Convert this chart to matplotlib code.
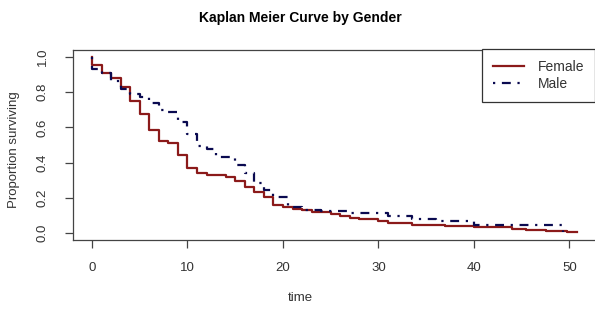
import matplotlib
matplotlib.use("Agg")
import matplotlib.pyplot as plt

# -------------------------------
# Data
# -------------------------------
female_time = [0, 0, 1, 2, 3, 4, 5, 6, 7, 8, 9, 10, 11, 12, 14, 15, 16, 17, 18,
               19, 20, 21, 22, 23, 25, 26, 27, 28, 30, 31, 33.5, 37, 40, 44,
               45.5, 47.5, 49.7, 50.8]
female_surv = [1.0, 0.955, 0.91, 0.882, 0.83, 0.75, 0.675, 0.585, 0.525, 0.51,
               0.443, 0.368, 0.34, 0.33, 0.316, 0.295, 0.263, 0.235, 0.206,
               0.16, 0.145, 0.135, 0.128, 0.121, 0.106, 0.097, 0.087, 0.078,
               0.066, 0.059, 0.045, 0.037, 0.032, 0.022, 0.016, 0.01, 0.004, 0.004]

male_time = [0, 0, 1, 2, 3, 4, 5, 6, 7, 8, 9, 10, 11, 12, 13, 15, 16, 17, 18,
             19, 20.5, 22, 24, 27, 31, 33.5, 36, 40, 49.3, 49.3]
male_surv = [1.0, 0.93, 0.91, 0.865, 0.82, 0.79, 0.775, 0.74, 0.70, 0.69,
             0.63, 0.56, 0.495, 0.478, 0.434, 0.386, 0.34, 0.284, 0.244,
             0.205, 0.15, 0.128, 0.125, 0.113, 0.095, 0.082, 0.07, 0.046,
             0.046, 0.004]

groups = ["Female", "Male"]
x_ticks = [0, 10, 20, 30, 40, 50]
y_ticks = [0.0, 0.2, 0.4, 0.6, 0.8, 1.0]

# -------------------------------
# Figure
# -------------------------------
plt.rcParams['font.family'] = ['Liberation Sans', 'DejaVu Sans']

fig = plt.figure(figsize=(5.95, 3.12), dpi=100)
ax = fig.add_axes([72.5 / 595, 72 / 312, 526 / 595, 190 / 312])

ax.step(female_time, female_surv, where="post", color="#8b1a1a", lw=1.6,
        label=groups[0])
ax.step(male_time, male_surv, where="post", color="#0a0a50", lw=1.6,
        linestyle=(0, (1, 3, 4, 3)), label=groups[1])

ax.set_xlim(-2.04, 53.04)
ax.set_ylim(-0.04, 1.04)
ax.set_xticks(x_ticks)
ax.set_xticklabels([str(t) for t in x_ticks])
ax.set_yticks(y_ticks)
ax.set_yticklabels(["%.1f" % v for v in y_ticks], rotation=90, va="center")

for sp in ax.spines.values():
    sp.set_color("#444444")
    sp.set_linewidth(0.9)
ax.tick_params(axis="both", direction="out", length=6, width=0.9,
               color="#444444", labelcolor="#333333", labelsize=9.5)
ax.tick_params(axis="x", pad=10)
ax.tick_params(axis="y", pad=11)

fig.text(300 / 595, 1 - 18 / 312, "Kaplan Meier Curve by Gender",
         ha="center", va="center", fontsize=10, fontweight="bold")
fig.text(300 / 595, 1 - 298 / 312, "time", ha="center", va="center",
         fontsize=9.5, color="#333333")
fig.text(14 / 595, 1 - 150 / 312, "Proportion surviving", ha="center",
         va="center", rotation=90, fontsize=9.5, color="#333333")

leg = ax.legend(loc="upper right", bbox_to_anchor=(1.0, 1 - 49 / 312),
                bbox_transform=fig.transFigure, borderaxespad=0,
                fancybox=False, framealpha=1, edgecolor="#333333",
                fontsize=10, handlelength=2.2, handletextpad=1.0,
                borderpad=0.8, labelspacing=0.2)
leg.get_frame().set_linewidth(0.9)
for t in leg.get_texts():
    t.set_color("#333333")

fig.savefig("out.png", dpi=100)
